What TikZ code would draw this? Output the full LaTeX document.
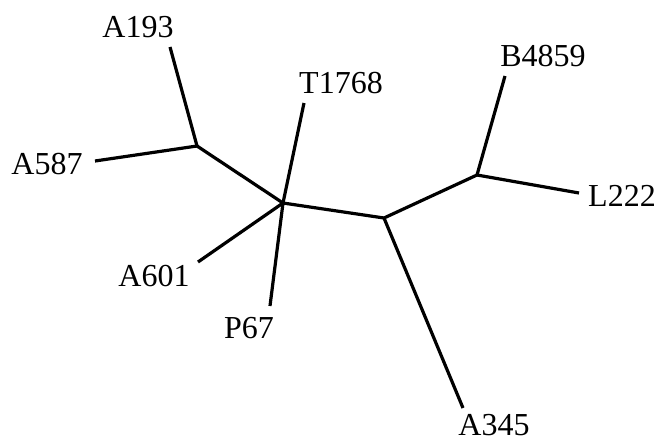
\documentclass[tikz,border=0pt]{standalone}
\usepackage{fontspec}
\setmainfont{Liberation Serif}
\begin{document}
\begin{tikzpicture}[x=1pt, y=-1pt, line width=3.2pt]
        \tikzset{taxon/.style={font=\fontsize{32}{38}\selectfont, inner sep=0pt}}
        \useasboundingbox (0,0) rectangle (657,442);

        % Internal nodes
        \coordinate (u1) at (197,146);
        \coordinate (u2) at (283,203);
        \coordinate (u3) at (384,218);
        \coordinate (u4) at (477,175);

        % Branch tips
        \coordinate (e193) at (170,47);
        \coordinate (e587) at (95,161);
        \coordinate (e1768) at (304,103);
        \coordinate (e601) at (198,262);
        \coordinate (e67) at (270,306);
        \coordinate (e345) at (463,408);
        \coordinate (e4859) at (505,76);
        \coordinate (e222) at (579,193);

        % Labels
        \node[taxon] (A193) at (138,27) {A193};
        \node[taxon] (A587) at (47,164) {A587};
        \node[taxon] (T1768) at (341,83) {T1768};
        \node[taxon] (A601) at (154,276) {A601};
        \node[taxon] (P67) at (249,328) {P67};
        \node[taxon] (A345) at (494,425) {A345};
        \node[taxon] (B4859) at (543,56) {B4859};
        \node[taxon] (L222) at (622,196) {L222};

        % Branches
        \draw (u1) -- (u2) -- (u3) -- (u4);
        \draw (u1) -- (e193);
        \draw (u1) -- (e587);
        \draw (u2) -- (e1768);
        \draw (u2) -- (e601);
        \draw (u2) -- (e67);
        \draw (u3) -- (e345);
        \draw (u4) -- (e4859);
        \draw (u4) -- (e222);
    \end{tikzpicture}
\end{document}
